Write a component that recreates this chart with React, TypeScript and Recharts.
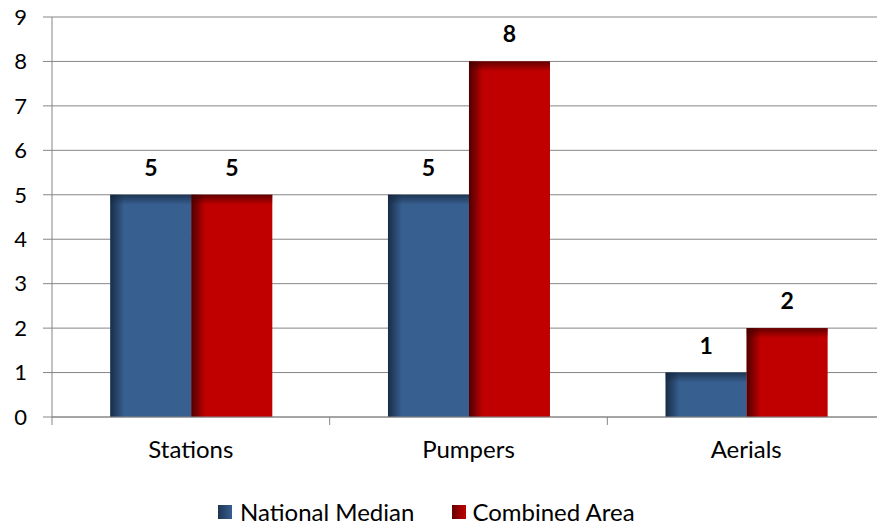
import React from 'react';
import { BarChart, Bar, XAxis, YAxis, CartesianGrid, Legend, LabelList } from 'recharts';

const categories = ['Stations', 'Pumpers', 'Aerials'];
const nationalMedian = [5, 5, 1];
const combinedArea = [5, 8, 2];
const yTicks = [0, 1, 2, 3, 4, 5, 6, 7, 8, 9];

const chartData = categories.map((name, i) => ({
  name,
  national: nationalMedian[i],
  combined: combinedArea[i],
}));

const FONT = 'Lato, "Open Sans", sans-serif';
const CHART_W = 885;
const PLOT_LEFT = 52;
const HALF_BAND = (CHART_W - PLOT_LEFT) / categories.length / 2;

const ShadedBar = (props: any) => {
  const { x, y, width, height, fill, edge } = props;
  if (!height || height <= 0) return null;
  const id = edge === 'red' ? 'Red' : 'Blue';
  return (
    <g>
      <rect x={x} y={y} width={width} height={height} fill={fill} />
      <rect x={x} y={y} width={Math.min(14, width)} height={height} fill={`url(#left${id})`} />
      <rect x={x} y={y} width={width} height={Math.min(10, height)} fill={`url(#top${id})`} />
    </g>
  );
};

const CatTick = (props: any) => {
  const { x, y, payload, index } = props;
  return (
    <g>
      <line x1={x - HALF_BAND} y1={y - 8} x2={x - HALF_BAND} y2={y} stroke="#868686" />
      {index === categories.length - 1 && (
        <line x1={x + HALF_BAND} y1={y - 8} x2={x + HALF_BAND} y2={y} stroke="#868686" />
      )}
      <text x={x} y={y + 33} textAnchor="middle" fontSize={24} fontFamily={FONT} fill="#000">
        {payload.value}
      </text>
    </g>
  );
};

const LegendContent = () => (
  <div style={{ display: 'flex', justifyContent: 'flex-start', gap: 38, fontFamily: FONT, fontSize: 24, color: '#000', paddingLeft: 218, paddingTop: 20 }}>
    <span style={{ display: 'flex', alignItems: 'center' }}>
      <span style={{ width: 14, height: 14, marginRight: 8, background: 'linear-gradient(90deg, #1e3654, #375f90)' }} />
      National Median
    </span>
    <span style={{ display: 'flex', alignItems: 'center' }}>
      <span style={{ width: 14, height: 14, marginRight: 6, background: 'linear-gradient(90deg, #6a0000, #c00000)' }} />
      Combined Area
    </span>
  </div>
);

export default function App() {
  return (
    <div style={{ position: 'absolute', left: 0, top: 0, width: 877, height: 529, overflow: 'hidden', background: '#fff' }}>
      <BarChart
        width={CHART_W}
        height={529}
        data={chartData}
        margin={{ top: 17, right: 0, left: 0, bottom: 0 }}
        barCategoryGap="21%"
        barGap={0}
      >
        <defs>
          <linearGradient id="leftBlue" x1="0" y1="0" x2="1" y2="0">
            <stop offset="0%" stopColor="#13243a" stopOpacity={0.85} />
            <stop offset="100%" stopColor="#13243a" stopOpacity={0} />
          </linearGradient>
          <linearGradient id="topBlue" x1="0" y1="0" x2="0" y2="1">
            <stop offset="0%" stopColor="#13243a" stopOpacity={0.7} />
            <stop offset="100%" stopColor="#13243a" stopOpacity={0} />
          </linearGradient>
          <linearGradient id="leftRed" x1="0" y1="0" x2="1" y2="0">
            <stop offset="0%" stopColor="#3a0000" stopOpacity={0.85} />
            <stop offset="100%" stopColor="#3a0000" stopOpacity={0} />
          </linearGradient>
          <linearGradient id="topRed" x1="0" y1="0" x2="0" y2="1">
            <stop offset="0%" stopColor="#3a0000" stopOpacity={0.7} />
            <stop offset="100%" stopColor="#3a0000" stopOpacity={0} />
          </linearGradient>
        </defs>
        <CartesianGrid vertical={false} stroke="#868686" />
        <XAxis
          dataKey="name"
          height={60}
          axisLine={{ stroke: '#868686' }}
          tickLine={false}
          tick={<CatTick />}
          interval={0}
        />
        <YAxis
          width={PLOT_LEFT}
          domain={[0, 9]}
          ticks={yTicks}
          interval={0}
          tickSize={9}
          tickMargin={16}
          axisLine={{ stroke: '#868686' }}
          tickLine={{ stroke: '#868686' }}
          tick={{ fontSize: 22, fontFamily: FONT, fill: '#000' }}
        />
        <Legend verticalAlign="bottom" height={52} content={<LegendContent />} />
        <Bar dataKey="national" name="National Median" fill="#375f90" isAnimationActive={false} shape={<ShadedBar edge="blue" />}>
          <LabelList dataKey="national" position="top" offset={19} style={{ fontSize: 23, fontWeight: 'bold', fontFamily: FONT, fill: '#000' }} />
        </Bar>
        <Bar dataKey="combined" name="Combined Area" fill="#c00000" isAnimationActive={false} shape={<ShadedBar edge="red" />}>
          <LabelList dataKey="combined" position="top" offset={19} style={{ fontSize: 23, fontWeight: 'bold', fontFamily: FONT, fill: '#000' }} />
        </Bar>
      </BarChart>
    </div>
  );
}
